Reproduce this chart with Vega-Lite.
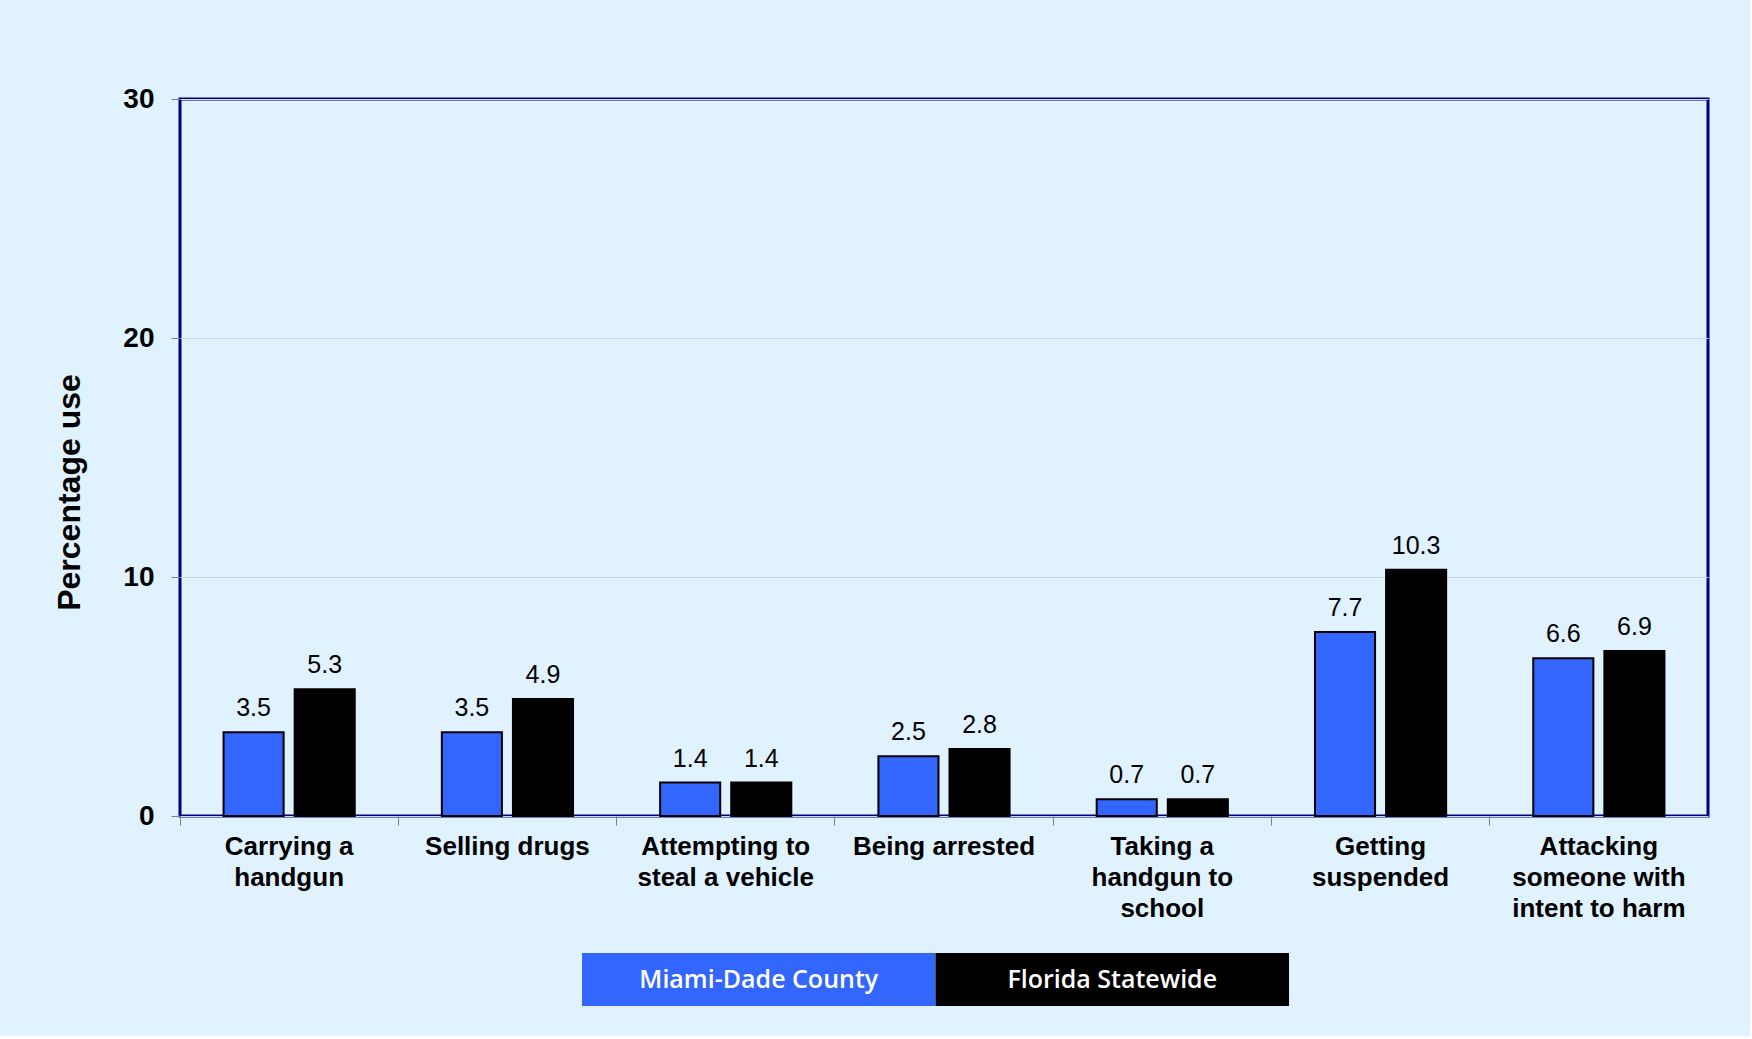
{
  "$schema": "https://vega.github.io/schema/vega-lite/v6.json",
  "autosize": {"type": "pad"},
  "padding": {"left": 52, "top": 83, "right": 40, "bottom": 30},
  "background": "#e0f2fe",
  "bounds": "flush",
  "center": true,
  "spacing": 137,
  "config": {"font": "Liberation Sans"},
  "vconcat": [
    {
      "width": 1528,
      "height": 717,
      "view": {"stroke": "#000080", "strokeWidth": 3},
      "data": {"values": [
        {"cat": "Carrying a|handgun", "series": "Miami-Dade County", "value": 3.5},
        {"cat": "Carrying a|handgun", "series": "Florida Statewide", "value": 5.3},
        {"cat": "Selling drugs", "series": "Miami-Dade County", "value": 3.5},
        {"cat": "Selling drugs", "series": "Florida Statewide", "value": 4.9},
        {"cat": "Attempting to|steal a vehicle", "series": "Miami-Dade County", "value": 1.4},
        {"cat": "Attempting to|steal a vehicle", "series": "Florida Statewide", "value": 1.4},
        {"cat": "Being arrested", "series": "Miami-Dade County", "value": 2.5},
        {"cat": "Being arrested", "series": "Florida Statewide", "value": 2.8},
        {"cat": "Taking a|handgun to|school", "series": "Miami-Dade County", "value": 0.7},
        {"cat": "Taking a|handgun to|school", "series": "Florida Statewide", "value": 0.7},
        {"cat": "Getting|suspended", "series": "Miami-Dade County", "value": 7.7},
        {"cat": "Getting|suspended", "series": "Florida Statewide", "value": 10.3},
        {"cat": "Attacking|someone with|intent to harm", "series": "Miami-Dade County", "value": 6.6},
        {"cat": "Attacking|someone with|intent to harm", "series": "Florida Statewide", "value": 6.9}
      ]},
      "resolve": {"axis": {"x": "independent"}},
      "layer": [
        {
          "mark": {"type": "bar", "stroke": "black", "strokeWidth": 2},
          "encoding": {
            "x": {"field": "cat", "type": "nominal", "sort": null,
              "scale": {"paddingInner": 0, "paddingOuter": 0},
              "axis": {"orient": "bottom", "title": null, "domain": false, "ticks": false, "tickSize": 0, "labelAngle": 0,
                "labelFontSize": 26, "labelFontWeight": "bold", "labelColor": "black",
                "labelPadding": 17, "labelLineHeight": 31, "labelLimit": 0,
                "labelExpr": "split(datum.label, '|')"}},
            "xOffset": {"field": "series", "type": "nominal", "sort": ["Miami-Dade County", "Florida Statewide"],
              "scale": {"paddingInner": 0.155, "paddingOuter": 0.6125}},
            "y": {"field": "value", "type": "quantitative",
              "scale": {"domain": [0, 30]},
              "axis": {"title": "Percentage use", "titleFontSize": 32, "titleFontWeight": "bold", "titleColor": "black",
                "titlePadding": 36, "titleY": 393, "values": [0, 10, 20, 30],
                "labelFontSize": 28, "labelFontWeight": "bold", "labelColor": "black", "labelPadding": 17,
                "tickSize": 9, "tickColor": "#808080", "domain": false,
                "grid": true, "gridColor": "#c5d8e3", "gridWidth": 1}},
            "color": {"field": "series", "type": "nominal",
              "scale": {"domain": ["Miami-Dade County", "Florida Statewide"], "range": ["#3366ff", "#000000"]},
              "legend": null}
          }
        },
        {
          "mark": {"type": "text", "baseline": "alphabetic", "dy": -16, "fontSize": 25, "color": "black"},
          "encoding": {
            "x": {"field": "cat", "type": "nominal", "sort": null,
              "axis": {"orient": "bottom", "title": null, "labels": false, "domain": false, "ticks": true, "tickSize": 9,
                "tickColor": "#808080", "bandPosition": 0, "grid": false}},
            "xOffset": {"field": "series", "type": "nominal", "sort": ["Miami-Dade County", "Florida Statewide"]},
            "y": {"field": "value", "type": "quantitative"},
            "text": {"field": "value", "type": "quantitative", "format": ".1f"}
          }
        }
      ]
    },
    {
      "width": 724,
      "height": 53,
      "view": {"stroke": null},
      "data": {"values": [{"s": "Miami-Dade County"}, {"s": "Florida Statewide"}]},
      "layer": [
        {
          "mark": {"type": "bar"},
          "encoding": {
            "x": {"field": "s", "type": "nominal", "sort": null,
              "scale": {"paddingInner": 0, "paddingOuter": 0.024, "align": 0}, "axis": null},
            "color": {"field": "s", "type": "nominal",
              "scale": {"domain": ["Miami-Dade County", "Florida Statewide"], "range": ["#3366ff", "#000000"]},
              "legend": null}
          }
        },
        {
          "mark": {"type": "text", "color": "white", "fontSize": 25, "fontWeight": 600, "font": "Open Sans"},
          "encoding": {
            "x": {"field": "s", "type": "nominal", "sort": null, "axis": null},
            "text": {"field": "s"}
          }
        }
      ]
    }
  ]
}
